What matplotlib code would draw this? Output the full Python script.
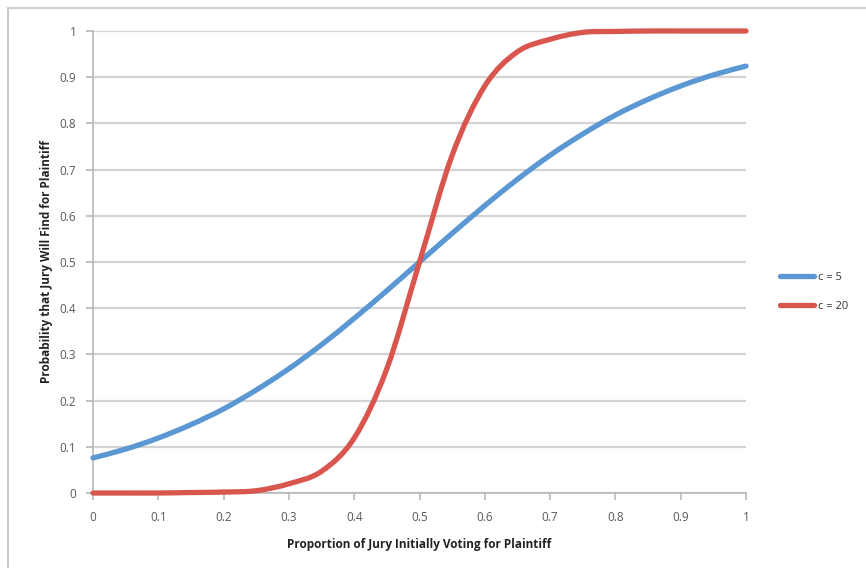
import matplotlib
matplotlib.use("Agg")
import matplotlib.pyplot as plt
from matplotlib.path import Path
from matplotlib.patches import PathPatch
from matplotlib.lines import Line2D
import numpy as np

# ---- data ----
x_vals = [0.00, 0.05, 0.10, 0.15, 0.20, 0.25, 0.30, 0.35, 0.40, 0.45, 0.50,
          0.55, 0.60, 0.65, 0.70, 0.75, 0.80, 0.85, 0.90, 0.95, 1.00]
c5_vals = [0.076, 0.095, 0.119, 0.148, 0.182, 0.223, 0.269, 0.321, 0.378, 0.438, 0.500,
           0.562, 0.622, 0.679, 0.731, 0.777, 0.818, 0.852, 0.881, 0.905, 0.924]
c20_vals = [0.000, 0.000, 0.000, 0.001, 0.002, 0.005, 0.020, 0.047, 0.119, 0.269, 0.500,
            0.731, 0.881, 0.955, 0.982, 0.997, 0.999, 1.000, 1.000, 1.000, 1.000]
series_names = ["c = 5", "c = 20"]
x_ticks = [0, 0.1, 0.2, 0.3, 0.4, 0.5, 0.6, 0.7, 0.8, 0.9, 1]
x_tick_labels = ["0", "0.1", "0.2", "0.3", "0.4", "0.5", "0.6", "0.7", "0.8", "0.9", "1"]
y_ticks = [0, 0.1, 0.2, 0.3, 0.4, 0.5, 0.6, 0.7, 0.8, 0.9, 1]
y_tick_labels = ["0", "0.1", "0.2", "0.3", "0.4", "0.5", "0.6", "0.7", "0.8", "0.9", "1"]

BLUE = "#5A97D3"
RED = "#D9564F"
GRID = "#D3D3D6"
TXT = "#595959"

plt.rcParams['font.family'] = ['Open Sans', 'DejaVu Sans']

fig = plt.figure(figsize=(8.66, 5.68), dpi=100)
ax = fig.add_axes([93/866, 1-493/568, (746-93)/866, (493-31)/568])


def smooth_path(xs, ys):
    """Excel-style smoothed line: cubic Bezier segments through data points."""
    xs = np.asarray(xs, float); ys = np.asarray(ys, float)
    n = len(xs)
    verts = [(xs[0], ys[0])]
    codes = [Path.MOVETO]
    for i in range(n - 1):
        p0 = np.array([xs[max(i-1, 0)], ys[max(i-1, 0)]])
        p1 = np.array([xs[i], ys[i]])
        p2 = np.array([xs[i+1], ys[i+1]])
        p3 = np.array([xs[min(i+2, n-1)], ys[min(i+2, n-1)]])
        c1 = p1 + (p2 - p0) / 6.0
        c2 = p2 - (p3 - p1) / 6.0
        verts += [tuple(c1), tuple(c2), tuple(p2)]
        codes += [Path.CURVE4] * 3
    return Path(verts, codes)


for ys, col in [(c5_vals, BLUE), (c20_vals, RED)]:
    patch = PathPatch(smooth_path(x_vals, ys), facecolor='none', edgecolor=col,
                      linewidth=3.8, capstyle='round', joinstyle='round', zorder=3,
                      clip_on=False)
    ax.add_patch(patch)

ax.set_xlim(0, 1)
ax.set_ylim(0, 1)
ax.set_xticks(x_ticks)
ax.set_xticklabels(x_tick_labels)
ax.set_yticks(y_ticks)
ax.set_yticklabels(y_tick_labels)

ax.yaxis.grid(True, color=GRID, linewidth=1.6, zorder=0)
ax.set_axisbelow(True)
for s in ['top', 'right']:
    ax.spines[s].set_visible(False)
for s in ['left', 'bottom']:
    ax.spines[s].set_color("#B8B8B8")
    ax.spines[s].set_linewidth(1.2)
ax.tick_params(axis='both', colors="#B8B8B8", labelcolor=TXT, labelsize=8.5,
               length=5, width=1.2, direction='out')
ax.tick_params(axis='x', pad=8)
ax.tick_params(axis='y', pad=7)

ax.set_xlabel("Proportion of Jury Initially Voting for Plaintiff", fontsize=8.5,
              fontweight='bold', color="#222222", labelpad=10)
ax.set_ylabel("Probability that Jury Will Find for Plaintiff", fontsize=8.5,
              fontweight='bold', color="#222222", labelpad=5)

handles = [Line2D([0], [0], color=BLUE, linewidth=3.8, solid_capstyle='round'),
           Line2D([0], [0], color=RED, linewidth=3.8, solid_capstyle='round')]
leg = fig.legend(handles, series_names, loc='center left',
                 bbox_to_anchor=(776/866, 1-292/568), frameon=False,
                 fontsize=8, handlelength=3.0, handletextpad=0.35,
                 labelspacing=1.6, borderaxespad=0)
for t in leg.get_texts():
    t.set_color("#333333")

# outer chart frame (top and left edges visible)
fig.add_artist(Line2D([8/866, 8/866], [0, 1-8/568], color="#BDBDBD", linewidth=1.2,
                      transform=fig.transFigure))
fig.add_artist(Line2D([8/866, 1], [1-8/568, 1-8/568], color="#D0D0D0", linewidth=1.5,
                      transform=fig.transFigure))

fig.savefig("out.png", dpi=100)
